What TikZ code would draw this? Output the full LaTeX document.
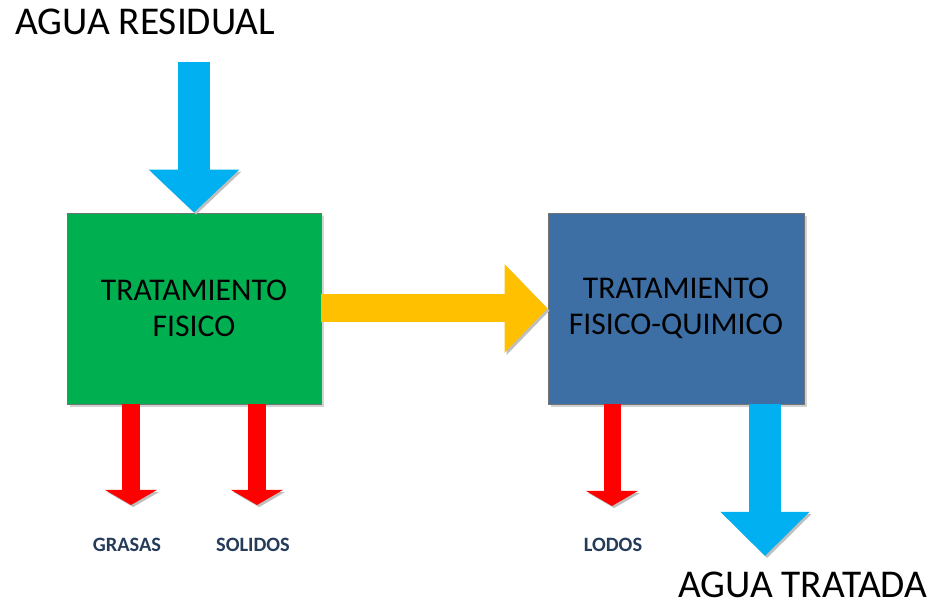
\documentclass[tikz,border=0pt]{standalone}
\usepackage{fontspec}
\setmainfont{Carlito}
\usetikzlibrary{arrows.meta,shadows}

\definecolor{verde}{HTML}{00B050}
\definecolor{azulcaja}{HTML}{3D6FA5}
\definecolor{celeste}{HTML}{00B0F0}
\definecolor{naranja}{HTML}{FFC000}
\definecolor{rojo}{HTML}{FF0000}
\definecolor{etiqueta}{HTML}{243B5A}

\tikzset{
  caja/.style={draw=black!55, line width=0.6pt, minimum height=4.775cm,
    align=center, font=\fontsize{22.5}{26}\selectfont,
    drop shadow={shadow xshift=2pt, shadow yshift=-2pt, fill=black!35}},
  sombra/.style={preaction={draw=black!25, transform canvas={xshift=1.5pt, yshift=-1.5pt}}},
  flechagrande/.style={line width=0.8cm, -{Triangle[width=2.2cm, length=1.075cm]}, sombra},
  flecharoja/.style={draw=rojo, line width=0.425cm, -{Triangle[width=1.275cm, length=0.375cm]}, sombra},
  titulo/.style={font=\fontsize{28}{33}\selectfont, anchor=base west, inner sep=0pt, text depth=0pt},
  residuo/.style={font=\fontsize{14.5}{17}\selectfont\bfseries, text=etiqueta}
}

\begin{document}
\begin{tikzpicture}[x=0.025cm, y=-0.025cm]
  \useasboundingbox (0, 0) rectangle (943, 609);

  % Draw the two treatment boxes
  \node[caja, fill=verde, minimum width=6.35cm] (fisico) at (194, 308.5)
    {TRATAMIENTO\\FISICO};
  \node[caja, fill=azulcaja, minimum width=6.4cm] (quimico) at (676, 308.5)
    {TRATAMIENTO\\FISICO-QUIMICO};

  % Titles for the water in and out
  \node[titulo] (entrada) at (15, 35) {AGUA RESIDUAL};
  \node[titulo] (salida) at (678, 598) {AGUA TRATADA};

  % Labels under the red arrows
  \node[residuo] (grasas) at (127, 545) {GRASAS};
  \node[residuo] (solidos) at (253, 545) {SOLIDOS};
  \node[residuo] (lodos) at (613, 545) {LODOS};

  % End points of the big arrows
  \coordinate (arriba) at (194, 62);
  \coordinate (abajo) at (765, 556);

  % Draw the big arrows
  \draw[flechagrande, draw=celeste] (arriba) -- (fisico.north);
  \draw[flechagrande, draw=naranja, line width=0.7cm,
        -{Triangle[width=2.15cm, length=1.075cm]}] (fisico.east) -- (quimico.west);
  \draw[flechagrande, draw=celeste,
        -{Triangle[width=2.15cm, length=1.1cm]}] (quimico.south -| abajo) -- (abajo);

  % Draw the red arrows
  \draw[flecharoja] (fisico.south -| 131, 0) -- ([shift={(4, -40)}]grasas.center);
  \draw[flecharoja] (fisico.south -| 257, 0) -- ([shift={(4, -40)}]solidos.center);
  \draw[flecharoja] (quimico.south -| 612, 0) -- ([shift={(-1, -39)}]lodos.center);
\end{tikzpicture}
\end{document}
